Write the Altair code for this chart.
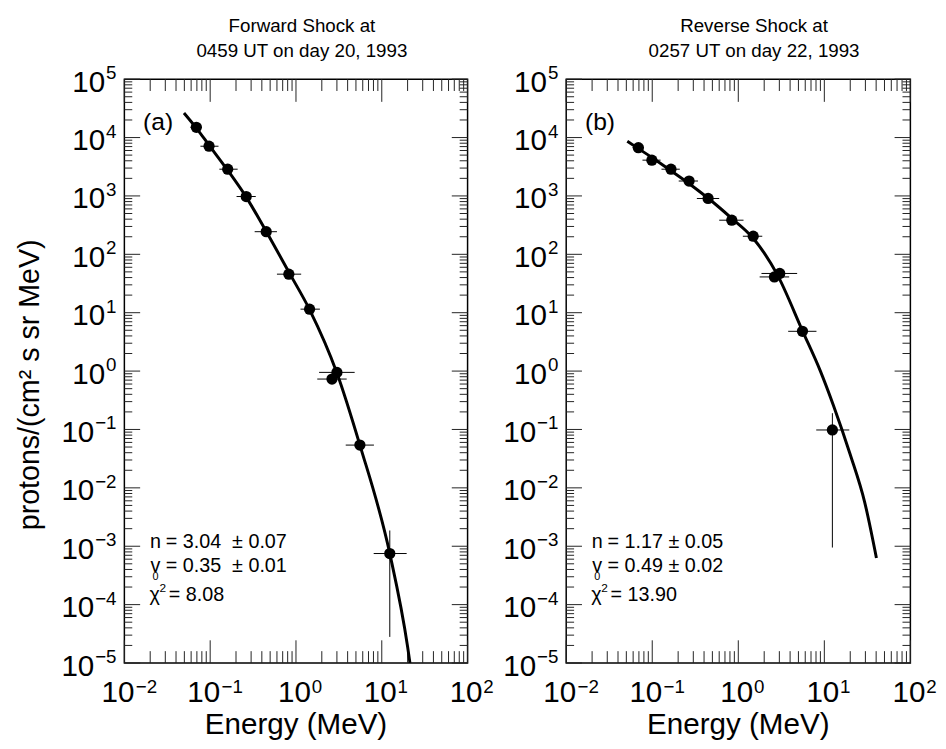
import altair as alt
import pandas as pd

FONT = "Liberation Sans"
INK = "#000000"
TICK = "#222222"
W_A, W_B, H = 348, 349, 592

# ---------------- data ----------------
# energy channel edges (MeV) from the horizontal error bars
E_LO = [0.059, 0.077, 0.128, 0.203, 0.33, 0.60, 1.13, 1.86, 1.77, 3.8, 8.05]
E_HI = [0.080, 0.125, 0.209, 0.34, 0.60, 1.15, 1.90, 4.83, 3.9, 8.1, 19.5]

# panel (a) forward shock
A_E = [0.069, 0.097, 0.16, 0.263, 0.45, 0.826, 1.44, 3.0, 2.63, 5.56, 12.4]
A_J = [1.5e4, 7.1e3, 2.87e3, 977, 244, 45.7, 11.5, 0.95, 0.73, 0.054, 7.5e-4]
A_J_LO = [1.45e4, 6.9e3, 2.8e3, 950, 236, 44, 11.0, 0.90, 0.69, 0.050, 2.8e-5]
A_J_HI = [1.55e4, 7.3e3, 2.95e3, 1000, 252, 47.5, 12.0, 1.0, 0.77, 0.058, 1.86e-3]
A_CURVE_E = [0.0495, 0.069, 0.097, 0.16, 0.263, 0.447, 0.83, 1.445, 3.0, 5.56, 12.4, 20.0, 21.3]
A_CURVE_J = [2.63e4, 1.45e4, 7.4e3, 2.75e3, 955, 251, 49, 11.2, 0.93, 0.054, 7.5e-4, 1.9e-5, 1.0e-5]

# panel (b) reverse shock
B_E = [0.069, 0.099, 0.165, 0.268, 0.446, 0.84, 1.49, 3.03, 2.63, 5.57, 12.4]
B_J = [6.7e3, 4.1e3, 2.87e3, 1.8e3, 904, 384, 204, 47, 41, 4.8, 0.098]
B_J_LO = [6.4e3, 3.95e3, 2.75e3, 1.73e3, 870, 368, 195, 45, 39, 4.5, 9.5e-4]
B_J_HI = [7.0e3, 4.25e3, 3.0e3, 1.87e3, 940, 400, 213, 49, 43, 5.1, 0.19]
B_CURVE_E = [0.0513, 0.069, 0.1, 0.166, 0.269, 0.447, 0.832, 1.48, 2.82, 5.57, 9.0, 12.7, 19.9, 29.5, 40.3]
B_CURVE_J = [8630, 6460, 4520, 2690, 1620, 912, 417, 190, 45.7, 4.9, 1.0, 0.263, 0.038, 5.6e-3, 6.3e-4]

# texts
TITLE_A = ["Forward Shock at", "0459 UT on day 20, 1993"]
TITLE_B = ["Reverse Shock at", "0257 UT on day 22, 1993"]
ANN_A = ["= 3.04\u00a0 \u00b1 0.07", "= 0.35\u00a0 \u00b1 0.01", "= 8.08"]
ANN_B = ["= 1.17 \u00b1 0.05", "= 0.49 \u00b1 0.02", "= 13.90"]
Y_TITLE = "protons/(cm\u00b2 s sr MeV)"
X_TITLE = "Energy (MeV)"

Y_EXP = [5, 4, 3, 2, 1, 0, -1, -2, -3, -4, -5]
X_EXP = [-2, -1, 0, 1, 2]

XS = alt.Scale(type="log", domain=[0.01, 100], nice=False)
YS = alt.Scale(type="log", domain=[1e-5, 1e5], nice=False)


def sup(e):
    return str(e) if e >= 0 else "\u2212" + str(-e)


ONE = pd.DataFrame({"k": [0]})


def txt(s, x, y, size, align="left", angle=0, baseline="alphabetic"):
    kw = dict(align=align, baseline=baseline, fontSize=size, font=FONT, color=INK)
    if angle:
        kw["angle"] = angle
    return alt.Chart(ONE).mark_text(**kw).encode(
        x=alt.value(x), y=alt.value(y), text=alt.value(s))


def panel(W, E, J, JLO, JHI, CE, CJ, letter, title, title_dx, ann, with_ytitle):
    layers = []
    # ticks
    x_major = [10.0 ** e for e in X_EXP]
    x_minor = [k * 10.0 ** m for m in range(-2, 2) for k in range(2, 10)]
    y_major = [10.0 ** e for e in Y_EXP]
    y_minor = [k * 10.0 ** m for m in range(-5, 5) for k in range(2, 10)]
    for vals, ln in ((x_major, 23), (x_minor, 12)):
        c = alt.Chart(pd.DataFrame({"v": vals})).mark_rule(color=TICK, strokeWidth=1)
        xe = alt.X("v:Q", scale=XS, axis=None)
        layers.append(c.encode(x=xe, y=alt.value(H), y2=alt.value(H - ln)))
        layers.append(c.encode(x=xe, y=alt.value(0), y2=alt.value(ln)))
    for vals, ln in ((y_major, 16), (y_minor, 8)):
        c = alt.Chart(pd.DataFrame({"v": vals})).mark_rule(color=TICK, strokeWidth=1)
        ye = alt.Y("v:Q", scale=YS, axis=None)
        layers.append(c.encode(y=ye, x=alt.value(0), x2=alt.value(ln)))
        layers.append(c.encode(y=ye, x=alt.value(W), x2=alt.value(W - ln)))

    # tick labels
    ylab = pd.DataFrame({"v": [10.0 ** e for e in Y_EXP],
                         "s": [sup(e) for e in Y_EXP],
                         "neg": [e < 0 for e in Y_EXP]})
    yl = alt.Chart(ylab)
    ye = alt.Y("v:Q", scale=YS, axis=None)
    layers.append(yl.transform_filter("!datum.neg").mark_text(
        align="right", baseline="alphabetic", fontSize=30, font=FONT, color=INK, dy=12.7
    ).encode(y=ye, x=alt.value(-19.5), text=alt.value("10")))
    layers.append(yl.transform_filter("datum.neg").mark_text(
        align="right", baseline="alphabetic", fontSize=30, font=FONT, color=INK, dy=12.7
    ).encode(y=ye, x=alt.value(-30.5), text=alt.value("10")))
    layers.append(yl.mark_text(
        align="right", baseline="alphabetic", fontSize=19, font=FONT, color=INK, dy=0
    ).encode(y=ye, x=alt.value(-8), text="s:N"))

    xlab = pd.DataFrame({"v": [10.0 ** e for e in X_EXP],
                         "s": [sup(e) for e in X_EXP],
                         "neg": [e < 0 for e in X_EXP]})
    xl = alt.Chart(xlab)
    xe = alt.X("v:Q", scale=XS, axis=None)
    layers.append(xl.transform_filter("!datum.neg").mark_text(
        align="center", baseline="alphabetic", fontSize=30, font=FONT, color=INK, dx=-1.5
    ).encode(x=xe, y=alt.value(H + 40), text=alt.value("10")))
    layers.append(xl.transform_filter("datum.neg").mark_text(
        align="center", baseline="alphabetic", fontSize=30, font=FONT, color=INK, dx=-6.5
    ).encode(x=xe, y=alt.value(H + 40), text=alt.value("10")))
    layers.append(xl.transform_filter("!datum.neg").mark_text(
        align="left", baseline="alphabetic", fontSize=19, font=FONT, color=INK, dx=16
    ).encode(x=xe, y=alt.value(H + 30), text="s:N"))
    layers.append(xl.transform_filter("datum.neg").mark_text(
        align="left", baseline="alphabetic", fontSize=19, font=FONT, color=INK, dx=11.5
    ).encode(x=xe, y=alt.value(H + 30), text="s:N"))

    # data
    pts = pd.DataFrame({"E": E, "J": J, "Elo": E_LO, "Ehi": E_HI, "Jlo": JLO, "Jhi": JHI})
    base = alt.Chart(pts)
    layers.append(base.mark_rule(color=INK, strokeWidth=1).encode(
        x=alt.X("Elo:Q", scale=XS, axis=None), x2="Ehi:Q",
        y=alt.Y("J:Q", scale=YS, axis=None)))
    layers.append(base.mark_rule(color=INK, strokeWidth=1).encode(
        x=alt.X("E:Q", scale=XS, axis=None),
        y=alt.Y("Jlo:Q", scale=YS, axis=None), y2="Jhi:Q"))
    curve = pd.DataFrame({"E": CE, "J": CJ})
    layers.append(alt.Chart(curve).mark_line(
        color=INK, strokeWidth=3, interpolate="monotone", clip=True
    ).encode(x=alt.X("E:Q", scale=XS, axis=None), y=alt.Y("J:Q", scale=YS, axis=None)))
    layers.append(base.mark_circle(size=130, color=INK, opacity=1).encode(
        x=alt.X("E:Q", scale=XS, axis=None), y=alt.Y("J:Q", scale=YS, axis=None)))

    # texts
    layers.append(txt(letter, 19, 52, 25))
    layers.append(txt(title[0], W / 2 + title_dx, -48, 19, align="center"))
    layers.append(txt(title[1], W / 2 + title_dx, -22, 19, align="center"))
    layers.append(txt(X_TITLE, W / 2, H + 72, 30, align="center"))
    layers.append(txt("n", 26, 475, 20))
    layers.append(txt(ann[0], 42, 475, 20))
    layers.append(txt("v", 26.5, 500, 20))
    layers.append(txt("0", 28.5, 508, 11))
    layers.append(txt(ann[1], 42, 500, 20))
    layers.append(txt("\u03c7", 25.5, 529, 20))
    layers.append(txt("2", 35.5, 520, 12))
    layers.append(txt(ann[2], 45, 529, 20))
    if with_ytitle:
        layers.append(txt(Y_TITLE, -87, H / 2 + 14, 29, align="center", angle=270))
        # layout anchors (white, invisible) fixing the plot origin on the page
        layers.append(alt.Chart(ONE).mark_rule(color="white", strokeWidth=1).encode(
            x=alt.value(-116), x2=alt.value(-116), y=alt.value(0), y2=alt.value(1)))
        layers.append(alt.Chart(ONE).mark_rule(color="white", strokeWidth=1).encode(
            x=alt.value(0), x2=alt.value(1), y=alt.value(-65), y2=alt.value(-65)))
    return alt.layer(*layers).properties(width=W, height=H)


pa = panel(W_A, A_E, A_J, A_J_LO, A_J_HI, A_CURVE_E, A_CURVE_J, "(a)", TITLE_A, 6, ANN_A, True)
pb = panel(W_B, B_E, B_J, B_J_LO, B_J_HI, B_CURVE_E, B_CURVE_J, "(b)", TITLE_B, 16, ANN_B, False)

chart = alt.hconcat(pa, pb, spacing=100, bounds="flush").properties(
    padding=0, background="white"
).configure_view(stroke="black", strokeWidth=1.5)

chart.save("out.html", embed_options={"renderer": "svg", "actions": False})
